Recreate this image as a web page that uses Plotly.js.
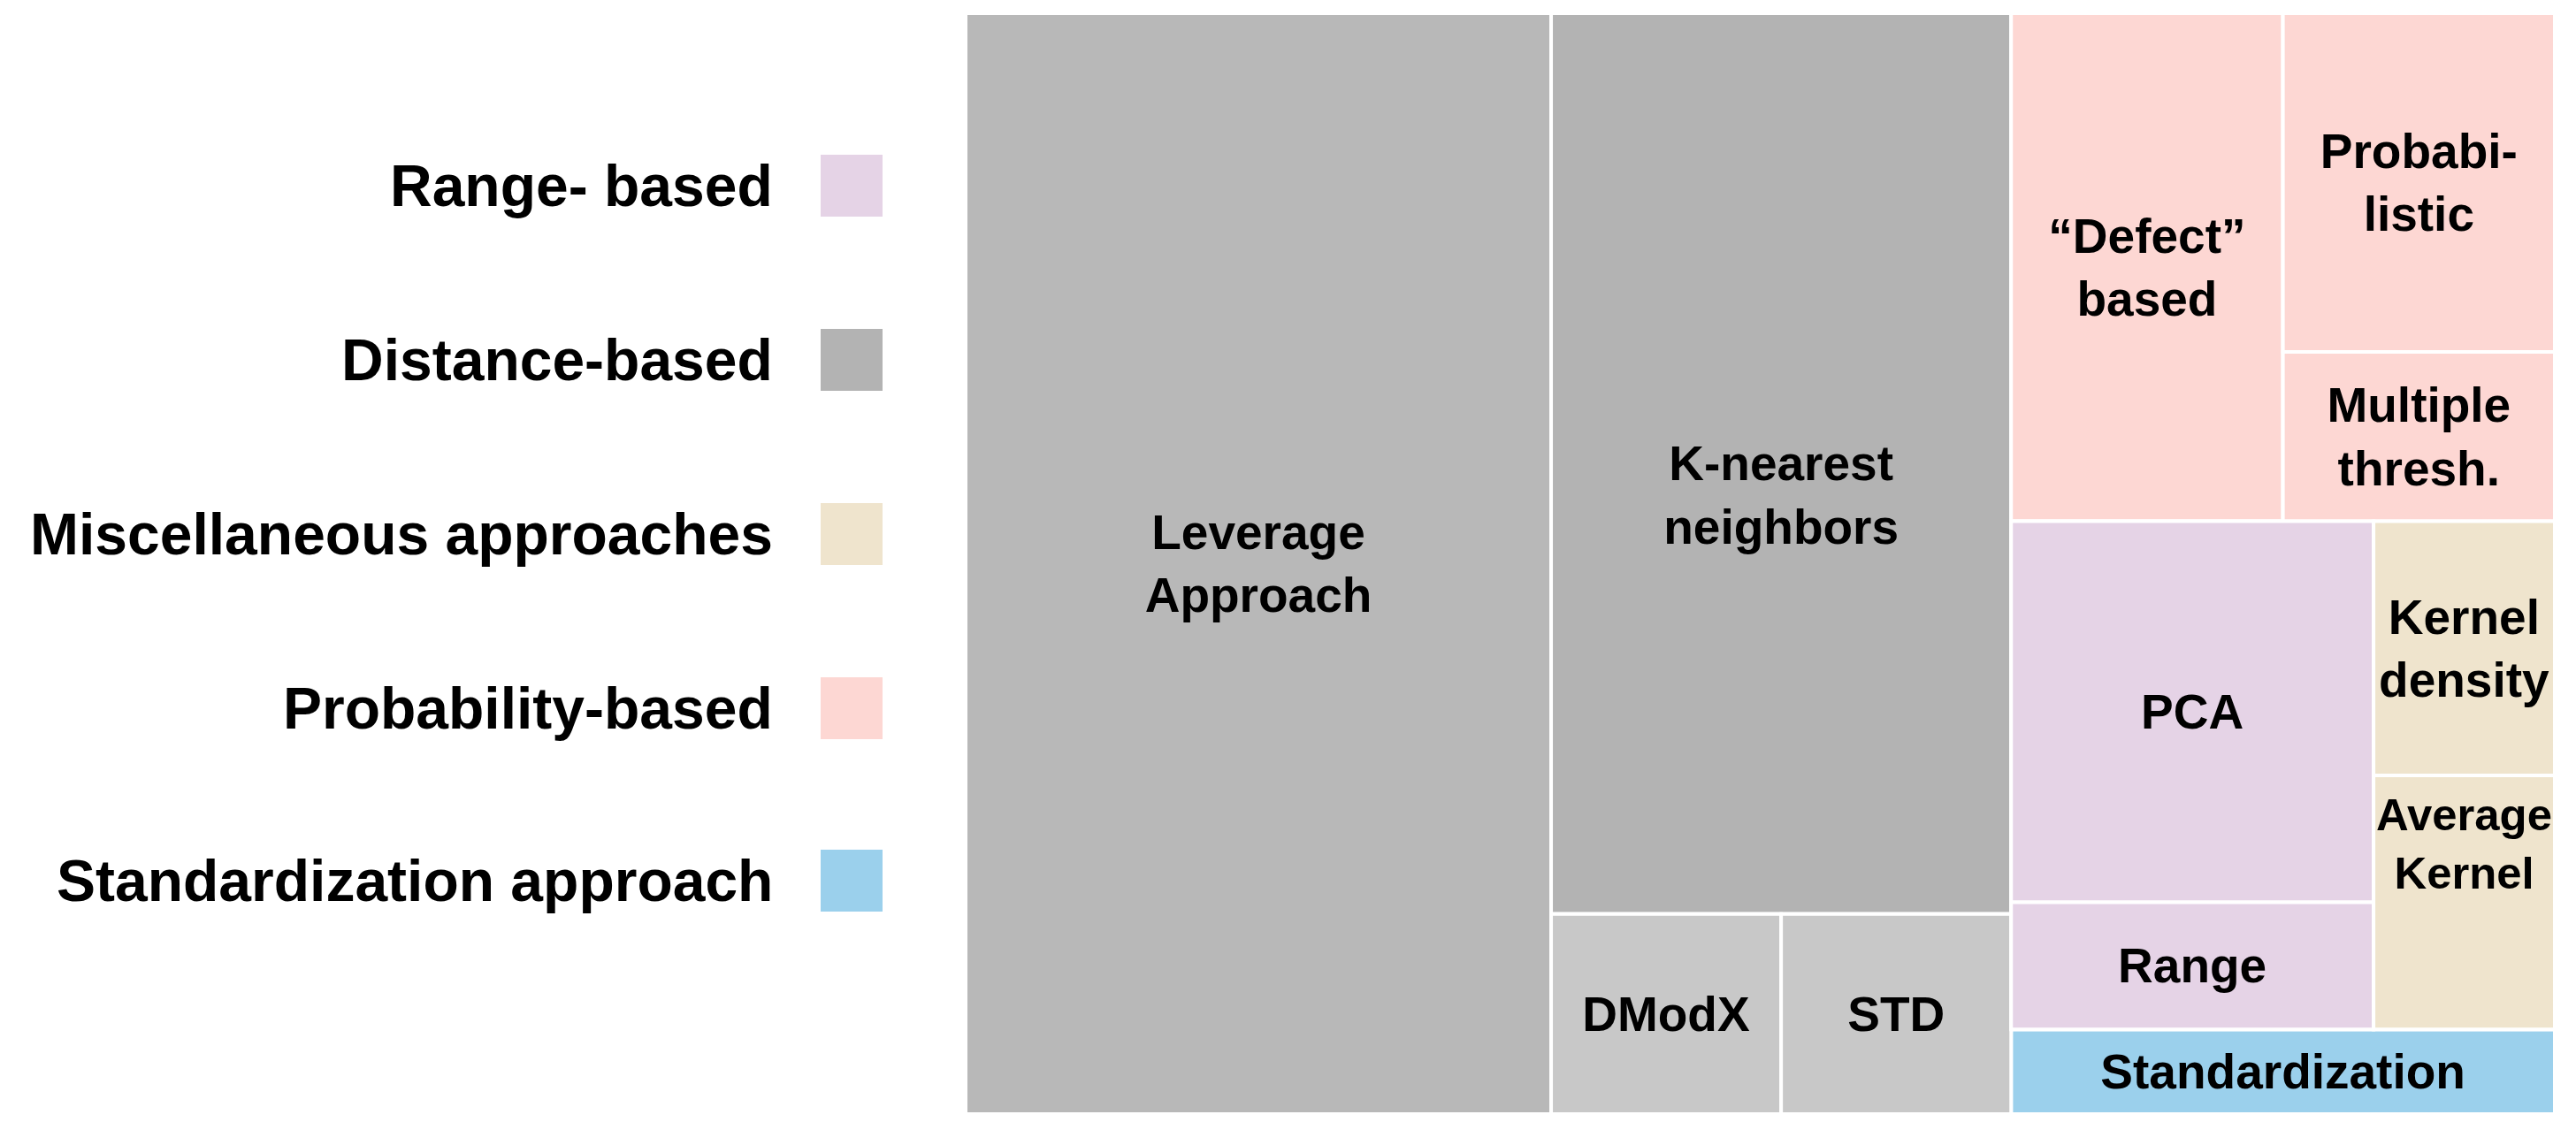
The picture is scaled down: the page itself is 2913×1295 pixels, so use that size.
<!DOCTYPE html>
<html>
<head>
<meta charset="utf-8">
<script src="https://cdn.plot.ly/plotly-3.0.1.min.js"></script>
<style>
  html, body { margin: 0; padding: 0; background: #ffffff; }
  #chart { width: 2913px; height: 1295px; }
</style>
</head>
<body>
<div id="chart"></div>
<script>
// ---- Data ----
const categories = ['Range- based', 'Distance-based', 'Miscellaneous approaches', 'Probability-based', 'Standardization approach'];
const categoryColors = ['#e5d3e6', '#b3b3b3', '#efe4cd', '#fdd7d3', '#9bd0ec'];

const methodIds = ['Leverage', 'KNN', 'DModX', 'STD', 'Defect', 'Probabilistic', 'Multiple', 'PCA', 'Range', 'KD', 'AK', 'Standardization'];
const methodLabels = ['Leverage<br>Approach', '&nbsp;<br>K-nearest<br>neighbors', 'DModX', 'STD', '\u201cDefect\u201d<br>based', 'Probabi-<br>listic', 'Multiple<br>thresh.', 'PCA', 'Range', 'Kernel<br>density', 'Average<br>Kernel<br>&nbsp;<br>&nbsp;', 'Standardization'];
const methodCounts = [14, 9, 1, 1, 3, 2, 1, 3, 1, 1, 1, 1];
const methodCategory = ['Distance-based', 'Distance-based', 'Distance-based', 'Distance-based',
  'Probability-based', 'Probability-based', 'Probability-based',
  'Range- based', 'Range- based', 'Miscellaneous approaches', 'Miscellaneous approaches', 'Standardization approach'];
const methodShade = ['#b8b8b8', '#b3b3b3', '#c8c8c8', '#c8c8c8', null, null, null, null, null, null, null, null];

// grouping nodes used for the tiling structure
const groupIds = ['root', 'KNNgrp', 'DSgrp', 'Right', 'Prob', 'PMgrp', 'RM', 'RangeGrp', 'Misc'];
const groupParents = ['', 'root', 'KNNgrp', 'root', 'Right', 'Prob', 'Right', 'RM', 'RM'];
const methodParents = ['root', 'KNNgrp', 'DSgrp', 'DSgrp', 'Prob', 'PMgrp', 'PMgrp', 'RangeGrp', 'RangeGrp', 'Misc', 'Misc', 'Right'];
// node order (keeps the tiling order)
const nodeOrder = ['root', 'Leverage', 'KNNgrp', 'KNN', 'DSgrp', 'DModX', 'STD', 'Right', 'Prob', 'Defect', 'PMgrp', 'Probabilistic', 'Multiple', 'RM', 'RangeGrp', 'PCA', 'Range', 'Misc', 'KD', 'AK', 'Standardization'];

// ---- Build trace ----
const ids = [], parents = [], values = [], texts = [], colors = [];
nodeOrder.forEach(function (id) {
  const mi = methodIds.indexOf(id);
  if (mi >= 0) {
    ids.push(id);
    parents.push(methodParents[mi]);
    values.push(methodCounts[mi]);
    texts.push(methodLabels[mi]);
    const col = methodShade[mi] || categoryColors[categories.indexOf(methodCategory[mi])];
    colors.push(col);
  } else {
    const gi = groupIds.indexOf(id);
    ids.push(id);
    parents.push(groupParents[gi]);
    values.push(0);
    texts.push('');
    colors.push('#ffffff');
  }
});

const W = 2913, H = 1295;
const trace = {
  type: 'treemap',
  ids: ids,
  labels: ids,
  parents: parents,
  values: values,
  text: texts,
  textinfo: 'text',
  branchvalues: 'remainder',
  sort: false,
  textposition: 'middle center',
  textfont: { family: 'Liberation Sans, Arial, sans-serif', size: 55, color: '#000000', weight: 'bold' },
  marker: {
    colors: colors,
    line: { color: '#ffffff', width: 4 },
    pad: { t: 0, l: 0, r: 0, b: 0 }
  },
  tiling: { packing: 'slice-dice', pad: 0 },
  pathbar: { visible: false },
  hoverinfo: 'none',
  domain: { x: [1092 / W, 2889 / W], y: [1 - 1260 / H, 1 - 15 / H] }
};

// ---- Legend (annotations + swatches) ----
const legendCenters = [210, 407, 604, 801, 996];
const annotations = categories.map(function (c, i) {
  return {
    xref: 'paper', yref: 'paper',
    x: 876 / W, y: 1 - legendCenters[i] / H,
    xanchor: 'right', yanchor: 'middle',
    text: c, showarrow: false,
    font: { family: 'Liberation Sans, Arial, sans-serif', size: 66, color: '#000000', weight: 'bold' }
  };
});
const shapes = categories.map(function (c, i) {
  return {
    type: 'rect', xref: 'paper', yref: 'paper',
    x0: 928 / W, x1: 998 / W,
    y0: 1 - (legendCenters[i] + 35) / H, y1: 1 - (legendCenters[i] - 35) / H,
    fillcolor: categoryColors[i], line: { width: 0 }
  };
});

const layout = {
  width: W, height: H,
  margin: { l: 0, r: 0, t: 0, b: 0 },
  paper_bgcolor: '#ffffff',
  showlegend: false,
  annotations: annotations,
  shapes: shapes
};

Plotly.newPlot('chart', [trace], layout, { displayModeBar: false, staticPlot: true });
</script>
</body>
</html>
